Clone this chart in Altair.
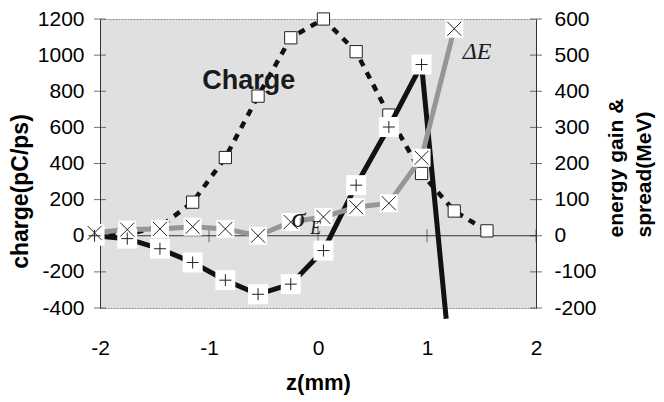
import altair as alt
import pandas as pd

# ---- data ----
Z = [-2.05, -1.75, -1.45, -1.15, -0.85, -0.55, -0.25, 0.05, 0.35, 0.65, 0.95, 1.25, 1.55]
CHARGE = [0, 8, 50, 186, 433, 773, 1096, 1200, 1019, 668, 345, 137, 27]          # pC/ps (left axis)
DE_Z = [-2.05, -1.75, -1.45, -1.15, -0.85, -0.55, -0.25, 0.05, 0.35, 0.65, 0.95]
DE = [0, -8, -36, -74, -123, -162, -134, -41, 140, 301, 474]                       # MeV (right axis)
DE_TAIL_Z = [1.176]
DE_TAIL = [-230]
SIG_Z = [-2.05, -1.75, -1.45, -1.15, -0.85, -0.55, -0.25, 0.05, 0.35, 0.65, 0.95, 1.25]
SIGMA = [8, 17, 19, 25, 19, 0, 38, 52, 79, 90, 216, 573]                           # MeV (right axis)

X_TICKS = [-2, -1, 0, 1, 2]
LEFT_TICKS = [-400, -200, 0, 200, 400, 600, 800, 1000, 1200]
RIGHT_TICKS = [-200, -100, 0, 100, 200, 300, 400, 500, 600]

LABEL_CHARGE = {"t": ["Charge"], "z": [-0.636], "v": [855]}
LABEL_DE = {"t": ["ΔE"], "z": [1.46], "v": [510]}
LABEL_SIG = {"t": ["σ"], "z": [-0.18], "v": [47]}
LABEL_SIG_SUB = {"t": ["E"], "z": [-0.02], "v": [19]}

SANS = "Liberation Sans"
SERIF = "Liberation Serif"
PLUS = "M-1,0L1,0M0,-1L0,1"
CROSS = "M-1,-1L1,1M-1,1L1,-1"
HYPHEN = "'' + datum.value"

xs = alt.Scale(domain=[-2, 2], nice=False, zero=False)
ysL = alt.Scale(domain=[-400, 1200], nice=False, zero=False)
ysR = alt.Scale(domain=[-200, 600], nice=False, zero=False)

x_axis = alt.Axis(values=X_TICKS, domain=False, ticks=False, tickSize=0, grid=False,
                  labelFlush=False, labelFont=SANS, labelFontSize=21, labelColor="black",
                  labelPadding=40, labelBaseline="middle", labelExpr=HYPHEN,
                  title="z(mm)", titleFont=SANS, titleFontSize=22, titleFontWeight="bold",
                  titleColor="black", titleBaseline="middle", titleY=74)
left_axis = alt.Axis(values=LEFT_TICKS, domain=True, domainColor="#333", ticks=False,
                     tickSize=0, grid=False, labelFont=SANS, labelFontSize=21,
                     labelColor="black", labelPadding=16, labelExpr=HYPHEN,
                     title="charge(pC/ps)", titleFont=SANS, titleFontSize=23,
                     titleFontWeight="bold", titleColor="black", titleAngle=270,
                     titleAlign="center", titleBaseline="middle", titleX=-80, titleY=172)
right_axis = alt.Axis(orient="right", values=RIGHT_TICKS, domain=True, domainColor="#333",
                      ticks=False, tickSize=0, grid=False, labelFont=SANS, labelFontSize=21,
                      labelColor="black", labelPadding=18, labelExpr=HYPHEN,
                      title=["energy gain &", "spread(MeV)"], titleFont=SANS,
                      titleFontSize=21, titleFontWeight="bold", titleColor="black",
                      titleAngle=270, titleAlign="left", titleBaseline="middle",
                      titleLineHeight=28, titleX=80, titleY=218)

X = lambda: alt.X("z:Q", scale=xs, axis=x_axis)
YL = lambda: alt.Y("v:Q", scale=ysL, axis=left_axis)
YR = lambda: alt.Y("v:Q", scale=ysR, axis=right_axis)

charge_df = pd.DataFrame({"z": Z, "v": CHARGE})
de_pts = pd.DataFrame({"z": DE_Z, "v": DE})
de_line = pd.DataFrame({"z": DE_Z + DE_TAIL_Z, "v": DE + DE_TAIL})
sig_df = pd.DataFrame({"z": SIG_Z, "v": SIGMA})

zero = alt.Chart(pd.DataFrame({"v": [0]})).mark_rule(color="#333", strokeWidth=1).encode(y=YL())
xt = alt.Chart(pd.DataFrame({"z": X_TICKS, "v": [0] * len(X_TICKS)})).mark_tick(
    orient="vertical", size=13, thickness=1, color="#333").encode(x=X(), y=YL())
lt = alt.Chart(pd.DataFrame({"z": [-2] * len(LEFT_TICKS), "v": LEFT_TICKS})).mark_tick(
    orient="horizontal", size=12, thickness=1, color="#333").encode(x=X(), y=YL())
ch_line = alt.Chart(charge_df).mark_line(color="#111", strokeWidth=4.5,
                                         strokeDash=[7, 7]).encode(x=X(), y=YL())
ch_pts = alt.Chart(charge_df).mark_square(size=150, fill="white", stroke="#222",
                                          strokeWidth=1, opacity=1).encode(x=X(), y=YL())
ch_lab = alt.Chart(pd.DataFrame(LABEL_CHARGE)).mark_text(
    font=SANS, fontSize=27, fontWeight="bold", color="#1a1a1a", baseline="middle"
).encode(x=X(), y=YL(), text="t:N")

left = alt.layer(zero, xt, lt, ch_line, ch_pts, ch_lab)

rt = alt.Chart(pd.DataFrame({"z": [2] * len(RIGHT_TICKS), "v": RIGHT_TICKS})).mark_tick(
    orient="horizontal", size=12, thickness=1, color="#333").encode(x=X(), y=YR())
de_l = alt.Chart(de_line).mark_line(color="#111", strokeWidth=5, clip=False).encode(x=X(), y=YR())
sig_l = alt.Chart(sig_df).mark_line(color="#969696", strokeWidth=5).encode(x=X(), y=YR())
de_box = alt.Chart(de_pts).mark_square(size=400, color="white", opacity=1).encode(x=X(), y=YR())
sig_box = alt.Chart(sig_df).mark_square(size=324, color="white", opacity=1).encode(x=X(), y=YR())
de_m = alt.Chart(de_pts).mark_point(shape=PLUS, size=144, filled=False, stroke="#222",
                                    strokeWidth=1, opacity=1).encode(x=X(), y=YR())
sig_m = alt.Chart(sig_df).mark_point(shape=CROSS, size=196, filled=False, stroke="#222",
                                     strokeWidth=1, opacity=1).encode(x=X(), y=YR())
de_lab = alt.Chart(pd.DataFrame(LABEL_DE)).mark_text(
    font=SERIF, fontSize=24, fontStyle="italic", color="#1a1a1a", baseline="middle"
).encode(x=X(), y=YR(), text="t:N")
sig_lab = alt.Chart(pd.DataFrame(LABEL_SIG)).mark_text(
    font=SERIF, fontSize=28, fontStyle="italic", color="#1a1a1a", baseline="middle"
).encode(x=X(), y=YR(), text="t:N")
sig_sub = alt.Chart(pd.DataFrame(LABEL_SIG_SUB)).mark_text(
    font=SERIF, fontSize=18, fontStyle="italic", color="#1a1a1a", baseline="middle"
).encode(x=X(), y=YR(), text="t:N")

right = alt.layer(rt, de_l, sig_l, de_box, sig_box, de_m, sig_m, de_lab, sig_lab, sig_sub)

chart = alt.layer(left, right).resolve_scale(y="independent").properties(
    width=436, height=289,
    autosize=alt.AutoSizeParams(type="none"),
    padding={"left": 92, "top": 11, "right": 120, "bottom": 94},
    background="white",
).configure_view(fill="#e0e0e0", stroke="#8a8a8a", strokeDash=[2, 1])

chart.save("out.html", embed_options={"renderer": "svg", "actions": False})
